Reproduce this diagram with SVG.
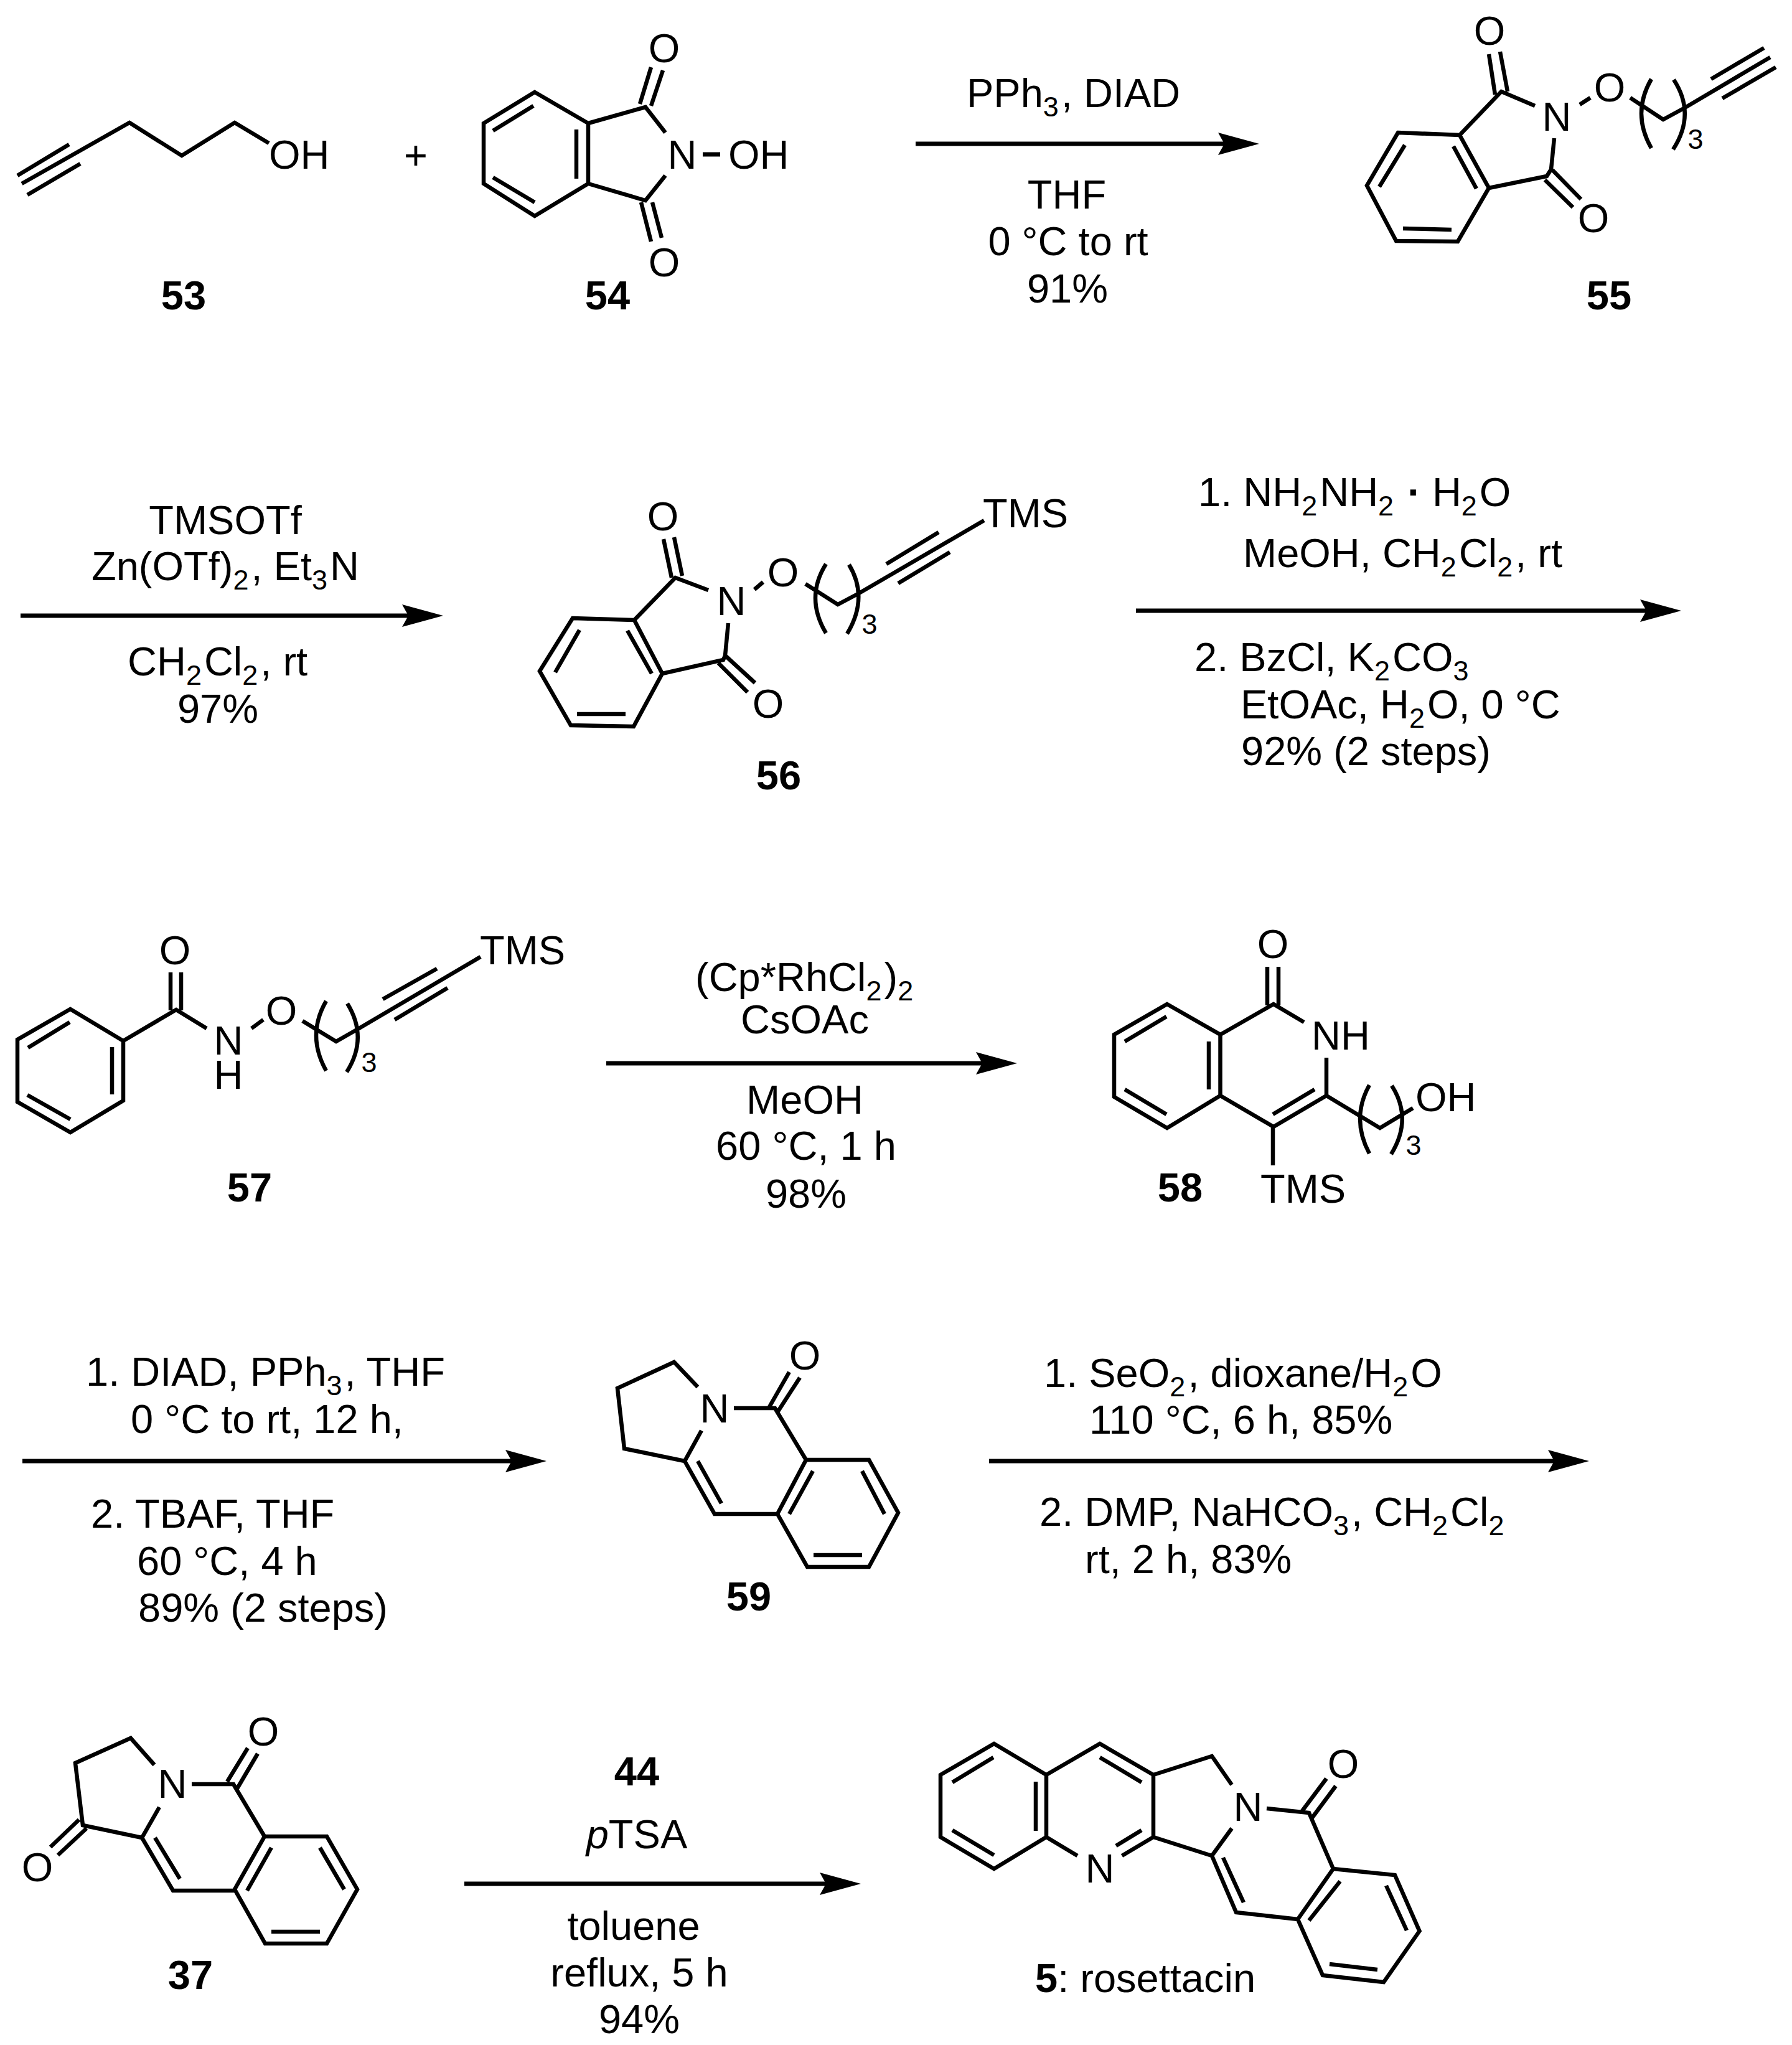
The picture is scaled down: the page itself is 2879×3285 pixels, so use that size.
<svg xmlns="http://www.w3.org/2000/svg" width="2879" height="3285" viewBox="0 0 2879 3285">
<style>
text{font-family:"Liberation Sans",Arial,sans-serif;font-size:65px;fill:#000}
.c{text-anchor:middle}
.l{font-weight:bold}
.s{font-size:45px}
.u{font-size:45px;letter-spacing:4px}
.b{fill:none;stroke:#000;stroke-width:6.5;stroke-linejoin:miter}
.a{stroke:#000;stroke-width:7;fill:none;marker-end:url(#h)}
</style>
<defs><marker id="h" markerUnits="userSpaceOnUse" markerWidth="68" markerHeight="38" viewBox="0 0 68 38" refX="10" refY="18" orient="auto"><path d="M66 18L0 0L10 18L0 36Z" fill="#000"/></marker></defs>
<rect width="2879" height="3285" fill="#fff"/>
<g id="connectors">
<path class="a" d="M1471 231H1967"/>
<path class="a" d="M33 989H656"/>
<path class="a" d="M1825 981H2645"/>
<path class="a" d="M974 1708H1578"/>
<path class="a" d="M36 2347H822"/>
<path class="a" d="M1589 2347H2497"/>
<path class="a" d="M746 3026H1327"/>
</g>
<g id="c53">
<path class="b" d="M35 295L208 197L292 250L377 197L432 230M28 282L111 232M44 313L129 263"/>
<text x="432" y="271">OH</text>
<text class="l c" x="295" y="497">53</text>
</g>
<text id="plus" class="c" x="668" y="272">+</text>
<g id="c54" transform="translate(-6 0)">
<path class="b" d="M865 148L951 198V295L865 347L783 295V198ZM863 170L798 210M932 208V287M798 285L865 325M951 198L1043 172L1075 213M1075 282L1043 322L951 295M1034 167L1052 108M1052 170L1071 113M1036 325L1052 388M1054 325L1069 382"/>
<path d="M1135 248H1163" stroke="#000" stroke-width="7"/>
<text class="c" x="1073" y="100">O</text>
<text class="c" x="1073" y="444">O</text>
<text class="c" x="1102" y="271">N</text>
<text x="1176" y="271">OH</text>
<text class="l c" x="982" y="497">54</text>
</g>
<g id="c55">
<path class="b" d="M2246 213L2345 217L2392 302L2342 388L2243 387L2196 298ZM2257 233L2216 300M2335 235L2372 303M2332 369L2254 367M2345 217L2412 147L2466 170M2392 302L2485 283L2492 272L2497 222M2402 152L2392 87M2422 147L2410 83M2482 289L2527 333M2494 273L2540 320M2538 168L2555 157M2619 157L2672 192L2707 173L2844 92M2749 127L2834 77M2767 158L2853 108M2653 127Q2621 182 2653 238M2689 128Q2725 183 2688 240"/>
<text class="c" x="2393" y="72">O</text>
<text class="c" x="2560" y="373">O</text>
<text class="c" x="2501" y="210">N</text>
<text class="c" x="2586" y="163">O</text>
<text class="c s" x="2724" y="239">3</text>
<text class="l c" x="2585" y="497">55</text>
</g>
<g id="c56">
<path class="b" d="M920 993L1019 996L1064 1082L1018 1167L917 1165L867 1078ZM931 1012L892 1080M1008 1013L1047 1082M1005 1147L927 1147M1019 996L1085 928L1138 948M1064 1082L1162 1060L1165 1053L1170 1001M1079 928L1066 866M1096 925L1083 863M1154 1065L1201 1112M1165 1053L1213 1097M1212 947L1226 935M1294 938L1346 971L1380 953L1581 836M1424 906L1508 855M1443 937L1526 887M1327 906Q1293 960 1327 1017M1364 907Q1396 960 1361 1018"/>
<text class="c" x="1065" y="852">O</text>
<text class="c" x="1234" y="1153">O</text>
<text class="c" x="1175" y="988">N</text>
<text class="c" x="1258" y="942">O</text>
<text class="c s" x="1397" y="1018">3</text>
<text x="1579" y="847">TMS</text>
<text class="l c" x="1251" y="1268">56</text>
</g>
<g id="c57">
<path class="b" d="M113 1621L198 1672V1768L113 1819L28 1770V1670ZM112 1642L45 1683M180 1682V1758M113 1798L44 1759M198 1672L283 1622L332 1652M274 1623V1562M291 1623V1562M404 1652L423 1638M486 1640L540 1673L575 1653L772 1537M615 1605L702 1556M634 1638L719 1587M524 1608Q492 1663 524 1720M558 1612Q592 1667 557 1722"/>
<text class="c" x="281" y="1549">O</text>
<text class="c" x="367" y="1694">N</text>
<text class="c" x="367" y="1749">H</text>
<text class="c" x="452" y="1646">O</text>
<text class="c s" x="593" y="1722">3</text>
<text x="771" y="1549">TMS</text>
<text class="l c" x="401" y="1930">57</text>
</g>
<g id="c58">
<path class="b" d="M1875 1613L1960.5 1662V1760L1875 1812L1790 1762V1662ZM1874 1633L1807 1673M1942 1673V1750M1874 1790L1807 1750M1960.5 1662L2046 1613L2095 1642M2036 1615V1553M2054 1615V1553M2131 1699V1760L2046 1810L1960.5 1760M2045 1790L2112 1750M2045 1810V1872M2131 1760L2217 1812L2270 1780M2200 1743Q2170 1797 2200 1853M2236 1744Q2270 1797 2235 1854"/>
<text class="c" x="2045" y="1539">O</text>
<text x="2107" y="1686">NH</text>
<text x="2025" y="1932">TMS</text>
<text class="c s" x="2271" y="1855">3</text>
<text x="2274" y="1785">OH</text>
<text class="l c" x="1896" y="1930">58</text>
</g>
<g id="c59">
<path class="b" d="M1121 2228L1083 2188L992 2230L1003 2327L1100 2347L1127 2298M1179 2262H1245L1295 2345M1236 2260L1268 2204M1250 2267L1285 2213M1295 2345H1396L1443 2430L1396 2517H1297L1249 2432ZM1385 2363L1421 2432M1385 2498H1307M1268 2432L1306 2363M1100 2347L1148 2432H1249M1121 2347L1159 2415"/>
<text class="c" x="1148" y="2285">N</text>
<text class="c" x="1293" y="2200">O</text>
<text class="l c" x="1203" y="2587">59</text>
</g>
<g id="c37">
<path class="b" d="M248 2835L210 2792L121 2832L133 2932L228 2952L256 2903M308 2866H375L425 2950M365 2862L398 2808M381 2873L414 2817M425 2950H525L574 3035L525 3122H426L377 3035ZM514 2968L553 3035M514 3103H436M397 3037L436 2968M228 2952L278 3037H377M249 2952L289 3018M127 2923L81 2967M139 2937L93 2980"/>
<text class="c" x="277" y="2888">N</text>
<text class="c" x="423" y="2804">O</text>
<text class="c" x="60" y="3022">O</text>
<text class="l c" x="306" y="3195">37</text>
</g>
<g id="c5">
<path class="b" d="M1597 2801L1681 2851V2951L1597 3002L1511 2951V2851ZM1596 2823L1530 2863M1664 2862V2941M1597 2980L1530 2940M1681 2851L1767 2801L1853 2851V2951L1802.5 2981M1681 2951L1731 2981M1767 2823L1834 2863M1834 2940L1793 2965M1853 2851L1947 2821L1979 2867M1853 2951L1947 2981L1979 2937M2035 2905L2103 2912L2142 3002M2092 2909L2131 2857M2108 2920L2146 2869M2142 3002L2241 3012L2280.5 3102L2223 3184L2125 3173L2085 3083ZM2227 3029L2260 3101M2213 3164L2136 3155M2103 3085L2153 3022M1947 2981L1986 3072L2085 3083M1965 2984L1998 3056"/>
<text class="c" x="1767" y="3024">N</text>
<text class="c" x="2005" y="2925">N</text>
<text class="c" x="2158" y="2856">O</text>
<text x="1663" y="3200"><tspan class="l">5</tspan>: rosettacin</text>
</g>
<g id="r1">
<text x="1553" y="172">PPh<tspan class="u" dy="15">3</tspan><tspan dy="-15">, DIAD</tspan></text>
<text class="c" x="1714" y="335">THF</text>
<text class="c" x="1716" y="410">0 °C to rt</text>
<text class="c" x="1715" y="486">91%</text>
</g>
<g id="r2">
<text class="c" x="362" y="858">TMSOTf</text>
<text x="147" y="932">Zn(OTf)<tspan class="u" dy="15">2</tspan><tspan dy="-15">, Et</tspan><tspan class="u" dy="15">3</tspan><tspan dy="-15">N</tspan></text>
<text x="205" y="1085">CH<tspan class="u" dy="15">2</tspan><tspan dy="-15">Cl</tspan><tspan class="u" dy="15">2</tspan><tspan dy="-15">, rt</tspan></text>
<text class="c" x="350" y="1161">97%</text>
</g>
<g id="r3">
<text x="1925" y="813">1. NH<tspan class="u" dy="15">2</tspan><tspan dy="-15">NH</tspan><tspan class="u" dy="15">2</tspan><tspan dy="-15" font-weight="bold"> · </tspan><tspan>H</tspan><tspan class="u" dy="15">2</tspan><tspan dy="-15">O</tspan></text>
<text x="1997" y="911">MeOH, CH<tspan class="u" dy="15">2</tspan><tspan dy="-15">Cl</tspan><tspan class="u" dy="15">2</tspan><tspan dy="-15">, rt</tspan></text>
<text x="1919" y="1078">2. BzCl, K<tspan class="u" dy="15">2</tspan><tspan dy="-15">CO</tspan><tspan class="u" dy="15">3</tspan></text>
<text x="1993" y="1154">EtOAc, H<tspan class="u" dy="15">2</tspan><tspan dy="-15">O, 0 °C</tspan></text>
<text x="1994" y="1229">92% (2 steps)</text>
</g>
<g id="r4">
<text x="1117" y="1592">(Cp*RhCl<tspan class="u" dy="15">2</tspan><tspan dy="-15">)</tspan><tspan class="u" dy="15">2</tspan></text>
<text class="c" x="1293" y="1660">CsOAc</text>
<text class="c" x="1293" y="1789">MeOH</text>
<text class="c" x="1295" y="1863">60 °C, 1 h</text>
<text class="c" x="1295" y="1940">98%</text>
</g>
<g id="r5">
<text x="138" y="2226">1. DIAD, PPh<tspan class="u" dy="15">3</tspan><tspan dy="-15">, THF</tspan></text>
<text x="210" y="2302">0 °C to rt, 12 h,</text>
<text x="146" y="2454">2. TBAF, THF</text>
<text x="220" y="2530">60 °C, 4 h</text>
<text x="222" y="2605">89% (2 steps)</text>
</g>
<g id="r6">
<text x="1677" y="2228">1. SeO<tspan class="u" dy="15">2</tspan><tspan dy="-15">, dioxane/H</tspan><tspan class="u" dy="15">2</tspan><tspan dy="-15">O</tspan></text>
<text x="1750" y="2303">110 °C, 6 h, 85%</text>
<text x="1670" y="2451">2. DMP, NaHCO<tspan class="u" dy="15">3</tspan><tspan dy="-15">, CH</tspan><tspan class="u" dy="15">2</tspan><tspan dy="-15">Cl</tspan><tspan class="u" dy="15">2</tspan></text>
<text x="1743" y="2527">rt, 2 h, 83%</text>
</g>
<g id="r7">
<text class="l c" x="1023" y="2868">44</text>
<text class="c" x="1023" y="2969"><tspan font-style="italic">p</tspan>TSA</text>
<text class="c" x="1018" y="3116">toluene</text>
<text class="c" x="1027" y="3191">reflux, 5 h</text>
<text class="c" x="1027" y="3266">94%</text>
</g>
</svg>
